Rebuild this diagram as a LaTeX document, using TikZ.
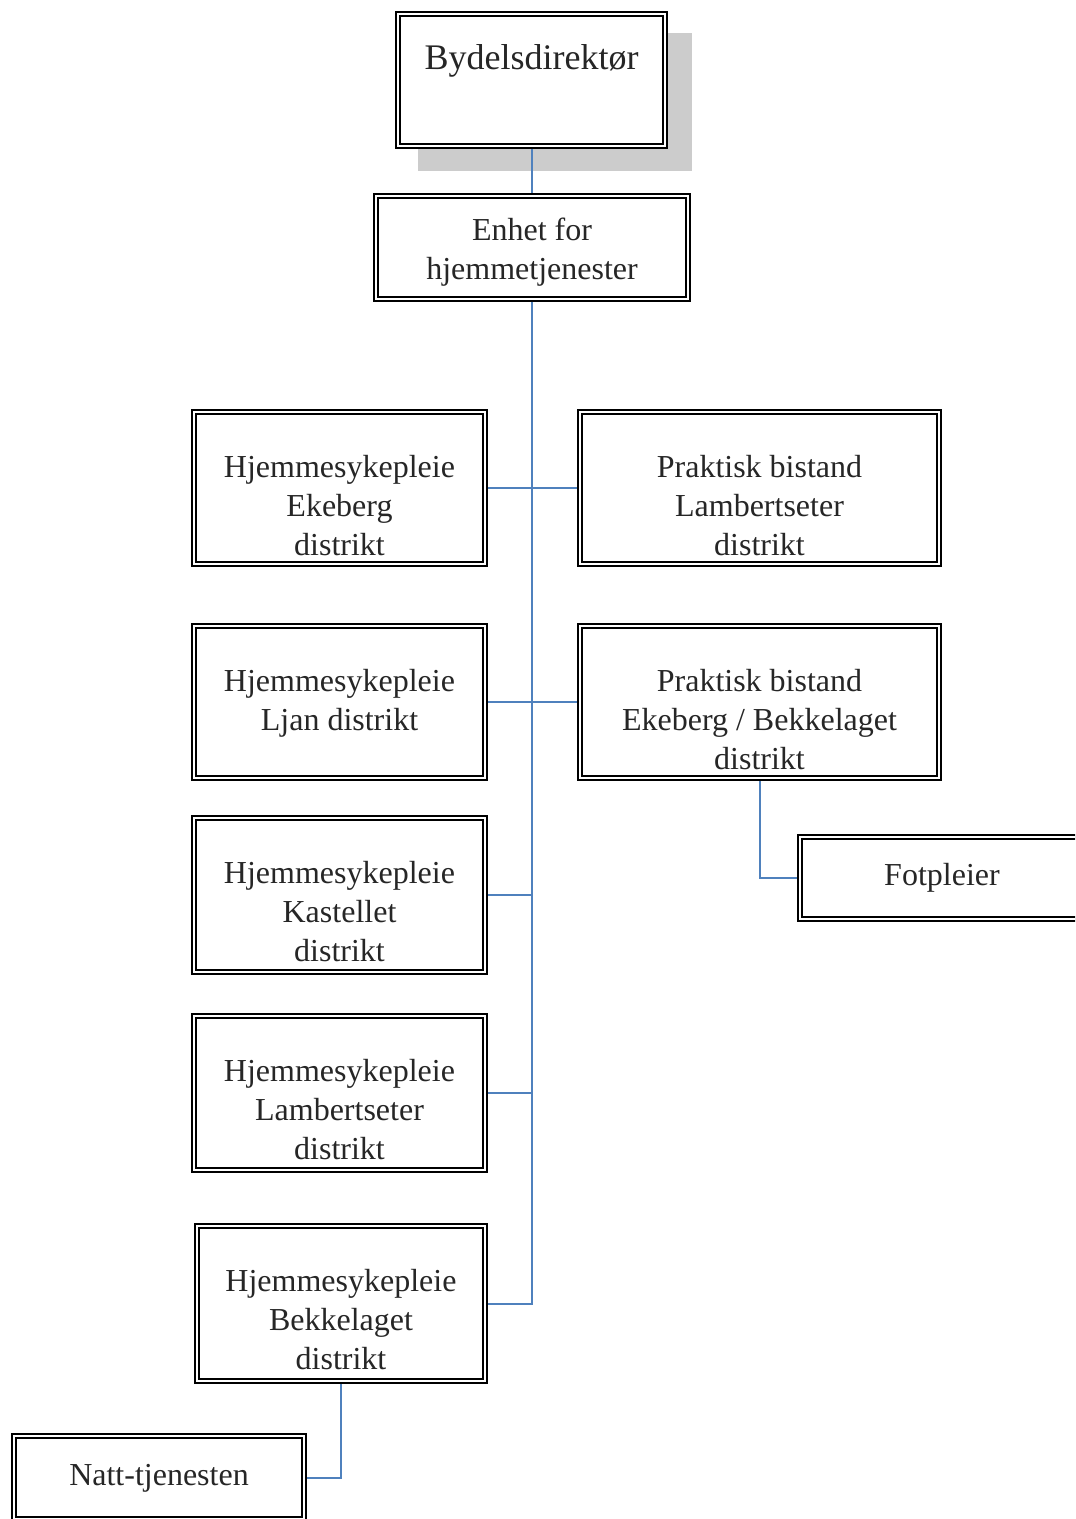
\documentclass[tikz,border=0pt]{standalone}
\usepackage{fontspec}
\setmainfont{Liberation Serif}
\definecolor{linkblue}{HTML}{4F81BD}
\definecolor{shadowgray}{HTML}{CCCCCC}
\definecolor{inkgray}{HTML}{262626}
\begin{document}
\begin{tikzpicture}[x=0.75pt,y=-0.75pt,
  box/.style={rectangle, draw=black, fill=white, line width=1.5pt, double=white,
    double distance=1.5pt, inner sep=0pt, outer sep=2.25pt},
  txt/.style={anchor=north, align=center, inner sep=0pt, text=inkgray,
    font=\fontsize{24pt}{29pt}\selectfont},
  conn/.style={draw=linkblue, line width=1.5pt}]
\clip (0,0) rectangle (1075,1519);

% top of the hierarchy, with its shadow
\node[fill=shadowgray, inner sep=0pt, minimum width={274*0.75pt},
  minimum height={138*0.75pt}] (dirshadow) at (555,102) {};
\node[box, minimum width={267*0.75pt}, minimum height={132*0.75pt}] (dir) at (531.5,80) {};
\node[txt, font=\fontsize{27pt}{32pt}\selectfont] (dir-t) at ([yshift=-25pt]dir.north) {Bydelsdirektør};

\node[box, minimum width={312*0.75pt}, minimum height={103*0.75pt}] (enh) at (532,247.5) {};
\node[txt] (enh-t) at ([yshift=-18.5pt]enh.north) {Enhet for\\hjemmetjenester};

% districts
\node[box, minimum width={291*0.75pt}, minimum height={152*0.75pt}] (he) at (339.5,488) {};
\node[txt] (he-t) at ([yshift=-34.75pt]he.north) {Hjemmesykepleie\\Ekeberg\\distrikt};

\node[box, minimum width={359*0.75pt}, minimum height={152*0.75pt}] (pl) at (759.5,488) {};
\node[txt] (pl-t) at ([yshift=-34.75pt]pl.north) {Praktisk bistand\\Lambertseter\\distrikt};

\node[box, minimum width={291*0.75pt}, minimum height={152*0.75pt}] (hlj) at (339.5,702) {};
\node[txt] (hlj-t) at ([yshift=-34.75pt]hlj.north) {Hjemmesykepleie\\Ljan distrikt};

\node[box, minimum width={359*0.75pt}, minimum height={152*0.75pt}] (pe) at (759.5,702) {};
\node[txt] (pe-t) at ([yshift=-34.75pt]pe.north) {Praktisk bistand\\Ekeberg / Bekkelaget\\distrikt};

\node[box, minimum width={284*0.75pt}, minimum height={82*0.75pt}] (fot) at (942,878) {};
\node[txt] (fot-t) at ([yshift=-21.5pt]fot.north) {Fotpleier};

\node[box, minimum width={291*0.75pt}, minimum height={154*0.75pt}] (hk) at (339.5,895) {};
\node[txt] (hk-t) at ([yshift=-34.75pt]hk.north) {Hjemmesykepleie\\Kastellet\\distrikt};

\node[box, minimum width={291*0.75pt}, minimum height={154*0.75pt}] (hlam) at (339.5,1093) {};
\node[txt] (hlam-t) at ([yshift=-34.75pt]hlam.north) {Hjemmesykepleie\\Lambertseter\\distrikt};

\node[box, minimum width={288*0.75pt}, minimum height={155*0.75pt}] (hb) at (341,1303.5) {};
\node[txt] (hb-t) at ([yshift=-34.75pt]hb.north) {Hjemmesykepleie\\Bekkelaget\\distrikt};

\node[box, minimum width={290*0.75pt}, minimum height={83*0.75pt}] (natt) at (159,1477.5) {};
\node[txt] (natt-t) at ([yshift=-23.5pt]natt.north) {Natt-tjenesten};

% connectors
\draw[conn] (dir.south) -- (dir.south |- enh.north);
\draw[conn] (enh.south) -- (enh.south |- hb.east) -- (hb.east);
\draw[conn] (he.east) -- (pl.west);
\draw[conn] (hlj.east) -- (pe.west);
\draw[conn] (hk.east) -- (hk.east -| enh.south);
\draw[conn] (hlam.east) -- (hlam.east -| enh.south);
\draw[conn] (pe.south) -- (pe.south |- fot.west) -- (fot.west);
\draw[conn] (hb.south) -- (hb.south |- natt.east) -- (natt.east);
\end{tikzpicture}
\end{document}
